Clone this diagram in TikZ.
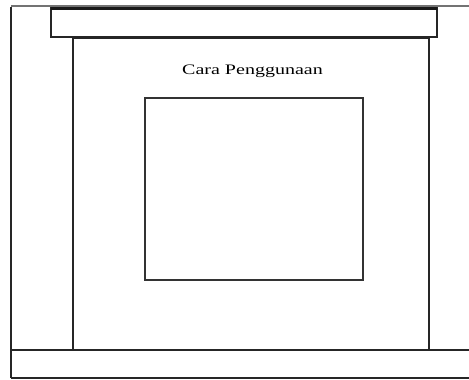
\documentclass[tikz,border=0pt]{standalone}
\usepackage{fontspec}
\setmainfont{Liberation Serif}
\begin{document}
\begin{tikzpicture}[x=1pt,y=-1pt,
  frame/.style={draw=black!85,line width=2pt},
  thin/.style={draw=black!85,line width=1.7pt},
  label/.style={font=\fontsize{14.5}{16}\selectfont,text=black,inner sep=0pt}]
\useasboundingbox[fill=white] (0,0) rectangle (469,380);
% outer frame
\draw[frame,draw=black!55] (11,6) -- (469,6);
\draw[frame] (11,7) -- (11,378);
% bottom bar
\draw[thin] (11,350) -- (469,350);
\draw[thin] (11,378) -- (469,378);
% middle frame
\draw[thin] (73,37) -- (73,350);
\draw[thin] (429,37) -- (429,350);
\draw[thin] (73,38.5) -- (429,38.5);
% header bar
\draw[frame] (51,7.5) rectangle (437,36.5);
\draw[line width=3pt,black!90] (51,8) -- (437,8);
% inner box
\node[draw=black!80,line width=1.5pt,minimum width=218pt,minimum height=182pt,inner sep=0pt] (box) at (254,189) {};
\node[label,xscale=1.38] (title) at (252.5,71) {Cara Penggunaan};
\end{tikzpicture}
\end{document}
